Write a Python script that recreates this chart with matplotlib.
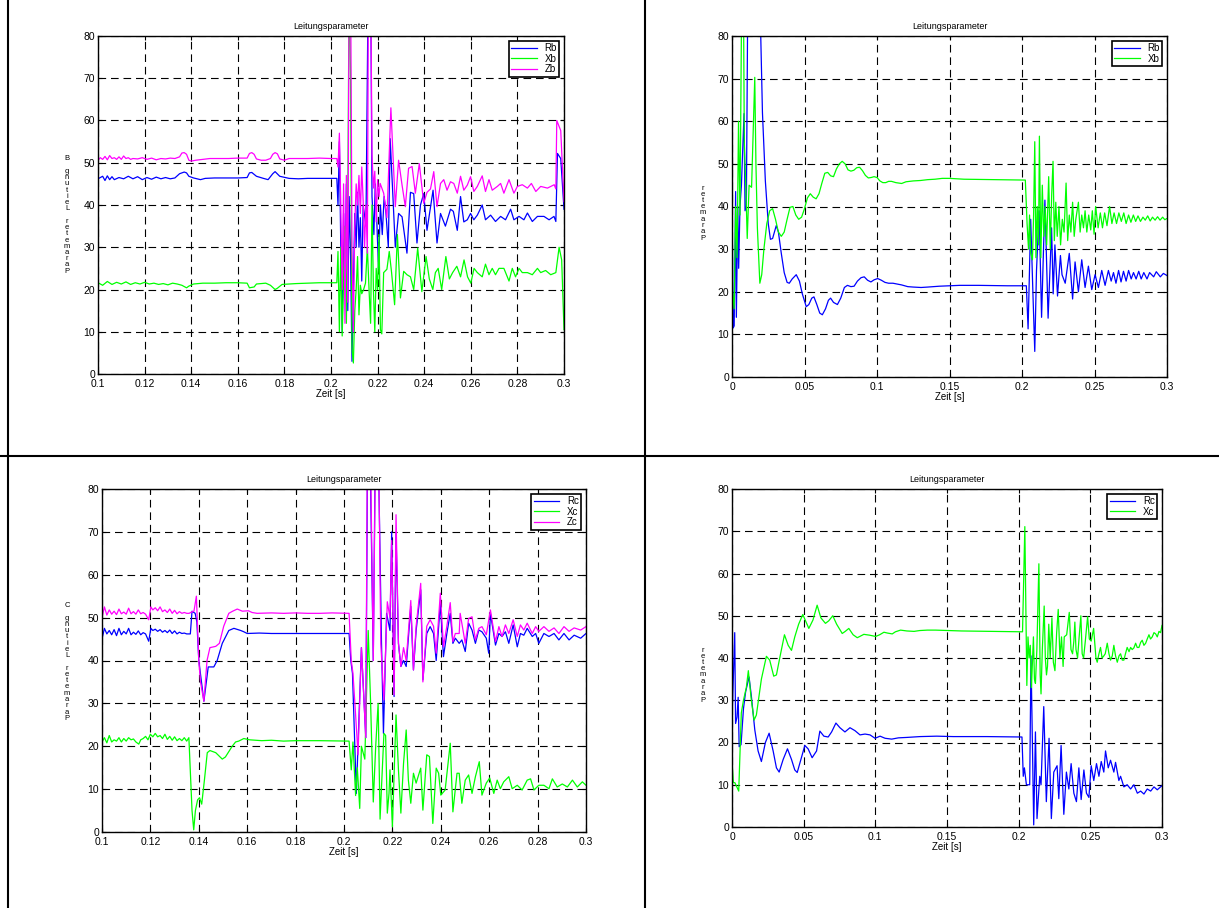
#recreate the four 'Leitungsparameter' panels (line b and line c)
import numpy as np
import matplotlib.pyplot as plt
from matplotlib.lines import Line2D

plt.rcParams['font.family'] = ['Liberation Sans', 'DejaVu Sans']
plt.rcParams['lines.scale_dashes'] = False

W, H = 1219, 908

#(time in ms, value) pairs
rb_left = [(100,46.2),(102,46.8),(103,45.8),(104,46.9),(105,46.0),(106,46.7),(107,46.0),(109,46.5),(111,46.2),(113,46.8),
           (115,46.2),(117,46.7),(119,46.0),(121,46.5),(123,46.1),(125,46.6),(127,46.2),(129,46.5),(131,46.2),(133,46.4),
           (135,47.4),(137,47.8),(138,47.6),(139,46.8),(141,46.4),(144,46.0),(146,46.3),(150,46.4),(155,46.4),(160,46.4),
           (164,46.5),(165,47.6),(166,47.7),(168,46.8),(171,46.3),(173,46.0),(175,47.4),(176,47.9),(178,46.8),(182,46.3),
           (186,46.2),(190,46.3),(195,46.3),(202.5,46.3),
           (203.0,40),(203.6,55),(204.2,30),(204.8,10),(205.4,38),(206.0,20),(206.6,45),(207.2,15),(207.8,42),(208.4,28),
           (209.0,3),(209.6,20),(210.2,38),(210.8,30),(211.4,43),(212.0,30),(212.6,37),(213.2,22),(213.8,40),(215.0,35),
           (216.0,95),(217.0,95),(217.6,42),(218.4,33),(219.0,45),(219.6,37),(220.4,25),(221.2,40),(222.0,33),(222.8,42),
           (223.6,38),(224.6,30),(225.4,55.7),(227.6,30),(229.0,38),(230.5,37.2),(232.6,28.6),(234.1,43),(235.5,42.7),(236.9,31),
           (238.4,40),(239.8,42.7),(241.2,34),(243.8,43.5),(245.5,31),(247.0,38),(249.1,35),(251.3,39),(252.5,38.5),(254.2,34),
           (255.6,42),(257.0,36),(258.5,36.5),(259.9,38),(261.3,36.5),(262.8,37.6),(264.9,40),(266.3,36.5),(268.5,37.6),(270.6,36.1),
           (272.8,37.3),(274.9,36.5),(277.1,39),(278.5,36.5),(280.7,37.3),(282.8,36.5),(284.3,38.1),(286.4,36.1),(288.6,37.3),(291.4,37.3),
           (293.6,36.5),(295.7,37.3),(296.5,36.1),(297.2,52.2),(298.6,51),(300,39)]
xb_left = [(100,21.6),(102,21.0),(104,21.9),(106,21.2),(108,21.7),(110,21.3),(112,21.8),(114,21.2),(116,21.6),(118,21.3),
           (120,21.7),(122,21.3),(124,21.5),(126,21.2),(128,21.4),(130,21.1),(132,21.5),(134,21.3),(136,21.0),(138,20.4),
           (139,20.8),(141,21.3),(145,21.5),(150,21.5),(155,21.6),(160,21.6),(164,21.5),(165,20.4),(167,20.6),(168,21.3),
           (172,21.5),(174,21.0),(176,20.0),(177,20.3),(179,21.2),(185,21.4),(190,21.5),(195,21.6),(202.5,21.6),
           (203.0,29),(203.6,10),(204.2,30),(204.8,9),(205.4,22),(206.0,35),(206.6,12),(207.2,40),(207.8,95),(208.4,70),
           (209.0,6),(209.6,2.6),(210.2,15),(210.8,20),(211.4,27.8),(212.0,14),(212.6,21),(213.2,19),(214.0,20),(214.8,21.5),
           (215.6,30),(216.4,19),(217.0,12),(217.6,40),(218.2,20),(218.8,10),(219.4,25),(220.0,20),(220.6,33),(221.2,10.5),
           (221.8,9.5),(222.6,24),(224.0,24.8),(225.0,29),(226.0,24),(227.3,16.4),(228.5,33),(229.8,18),(231.2,24.3),(232.6,23.5),
           (234.1,23),(235.5,20),(237.2,29.8),(239.0,19.5),(240.8,27.8),(242.2,22.5),(243.7,20),(244.8,24),(246.0,25),(247.5,20),
           (249.3,27.8),(250.8,22.5),(252.2,24),(254.0,25.5),(255.6,23),(257.1,27),(258.6,23),(260.0,21.5),(261.4,25),(262.8,24),
           (264.9,23),(266.3,26),(267.8,23.5),(269.2,25),(270.6,23.5),(272.1,25),(274.2,25),(276.4,22),(277.8,25),(279.2,23),
           (280.7,25),(282.1,24),(284.3,24),(286.4,23.5),(288.6,25),(290.0,24),(292.1,24.5),(294.3,23.5),(296.5,24),(297.9,30),
           (299.0,27),(300,10.5)]
zb_left = [(100,50.6),(101,51.2),(102,50.8),(103,51.5),(104,50.7),(105,51.7),(106,51.0),(107,51.2),(108,50.8),(109,51.4),
           (110,50.8),(111,51.6),(112,51.0),(113,51.2),(114,50.8),(115,51.0),(117,50.9),(119,51.2),(121,50.8),(123,51.1),
           (125,50.7),(127,51.0),(129,50.9),(131,51.1),(133,51.0),(135,51.4),(136,52.3),(137,52.4),(138,52.0),(139,50.6),
           (140,50.4),(142,50.6),(145,50.8),(148,51.0),(152,51.0),(156,51.0),(160,51.1),(164,51.1),(165,52.2),(166,52.4),
           (167,52.0),(168,50.9),(170,50.6),(172,50.6),(174,51.0),(175,52.0),(176,52.4),(177,52.1),(178,50.9),(180,50.6),
           (182,51.0),(186,51.0),(190,51.0),(195,51.1),(200,51.0),(202.5,51.0),
           (203.0,49),(203.6,57),(204.2,40),(204.8,20),(205.4,45),(206.0,12),(206.6,47),(207.2,17),(207.8,95),(208.4,95),
           (209.0,30),(209.6,10),(210.2,35),(210.8,45),(211.4,40),(212.0,47),(212.6,38),(213.2,49),(213.8,41),(214.4,30),
           (215.0,40),(215.6,28.6),(216.1,95),(217.0,95),(217.6,52),(218.2,44),(218.8,48),(219.4,36),(220.0,46),(220.6,42),
           (221.1,45.1),(222.6,42.8),(224.0,37),(225.7,63),(227.6,39.6),(229.0,50.6),(230.5,44.7),(231.9,39.6),(233.3,48.7),(234.8,49.1),
           (236.2,42.8),(237.9,49.8),(239.8,40.4),(241.2,43),(242.7,43.8),(244.1,47.9),(245.5,39.6),(247.0,45.1),(248.4,46),(249.8,43.5),
           (251.3,45.5),(252.7,45.1),(254.2,42.8),(255.6,46.8),(257.0,43.5),(258.5,44.7),(259.9,46.7),(261.3,43.2),(262.8,44.4),(264.9,46.9),
           (266.3,43.2),(267.8,46),(269.2,43.5),(271.4,44.4),(272.8,45.1),(274.2,42.8),(276.4,46),(278.5,42.8),(280.0,44.4),(282.1,44.8),
           (284.3,44),(286.0,45.1),(287.9,43.2),(290.0,44.4),(292.9,44),(295.8,44.8),(296.5,43.8),(296.9,60),(298.6,57.6),(300,40.8)]

rb_right = [(0,43),(0.8,11.5),(1.5,12),(2.5,43.5),(3.0,14),(4.0,40),(4.6,25.5),(5.5,40),(6.5,45),(8.3,61.8),
            (9.0,39),(9.9,40),(11.0,95),(18.5,95),(19.5,85),(21.0,62),(23.0,46),(25.0,36),(26.5,32.3),(28.0,32.5),
            (30.5,35.5),(32.0,34),(34.0,29),(36.0,24.5),(38.0,22.2),(39.5,22),(41.5,23),(44.3,24),(46.5,22.5),(48.5,19.5),
            (51.2,16.5),(53,17),(55,18.5),(56.5,18.8),(58.5,17),(60.5,15),(62.3,14.6),(64.5,16),(66.5,18),(68,18.5),
            (70,17.5),(72.7,17),(75,18.5),(77.5,21),(79.6,21.5),(82,21.2),(84.2,21.3),(86.5,22.5),(89,23.3),(91.2,23.5),
            (93.5,22.7),(95.8,22.3),(98,22.8),(100.5,23.1),(103,22.7),(105.5,22.2),(108,22),(111,22),(114,21.8),(117,21.6),
            (121.2,21.2),(125,21.1),(130.4,21),(135,21.1),(143,21.3),(150,21.4),(157,21.5),(170,21.5),(190,21.4),(203,21.4),
            (204.2,11.3),(206,37),(207.5,20),(208.8,6),(210,25),(211.8,39),(213.5,14),(215.8,41.5),(218,13.8),(220.4,35),
            (221.5,19.5),(222.7,31),(224.5,19),(226.5,28.5),(227.6,24),(229.8,22),(232.6,29),(234.9,18.3),(236.6,27),(238.9,20),
            (241.2,27.5),(243.5,21),(245.8,26),(248.1,20.5),(250.4,24),(252.7,21),(255,25),(257.3,21.5),(259.6,25),(261.5,22.5),
            (263.1,24.5),(264.8,22),(266.6,25),(268.3,22.3),(270,24.8),(271.8,22.5),(273.5,25),(275.3,23),(276.9,24.5),(278.7,23),
            (280.5,24.8),(282.2,23),(284,24.5),(286.2,23),(288,24.5),(290.8,23.5),(292.6,24.7),(295.4,23.5),(297.5,24.3),(300,23.8)]
xb_right = [(0,21),(1.5,16),(2.5,40),(3.5,28),(4.5,60),(5.5,38),(6.8,95),(7.8,95),(8.5,55),(9.5,45),
            (10.5,32.5),(11.8,45),(13.5,44.5),(15.7,70.3),(16.5,50),(17.5,35),(19.2,22),(20.5,24),(22,30),(24,36),
            (26,39),(28,39.5),(30,37),(32,34),(34,33),(36,34),(38,37),(40,39.8),(42,40),(44,38),
            (46,37),(48,37.5),(50,39.5),(52,42),(54,43),(56,42.2),(58,41.8),(60,43),(62,45.5),(64,47.8),
            (66,48),(68,47.2),(70,47),(72,48.8),(74,50),(76,50.6),(78,50),(80,48.6),(82,48.3),(84,48.5),
            (86,49.1),(88,49.2),(90,48.4),(92,47.3),(94,46.7),(96,46.8),(98,47),(100,46.8),(102,46),(104,45.6),
            (106,45.6),(108,45.9),(110,45.9),(113,45.6),(117,45.4),(120,45.8),(125,46),(130,46.1),(135,46.3),(140,46.4),
            (145,46.6),(150,46.6),(160,46.4),(180,46.3),(202.3,46.2),
            (203.5,36),(204.5,30),(205.2,38),(206.0,29),(207.2,27.5),(208.0,38),(208.8,55.2),(209.6,28),(210.5,40),(211.4,31),
            (212.0,56.5),(213.0,28),(214.0,45),(215.0,33),(216.0,40),(217.0,31),(218.4,47),(219.5,30),(220.5,43),(221.4,50.6),
            (222.3,32),(223.3,41),(224.3,33),(225.5,40),(226.6,31),(227.8,37),(229.0,34),(230.4,45.5),(231.5,32),(232.6,38),
            (233.7,34),(234.9,41),(236.0,33),(237.1,37),(238.9,41),(240.1,34),(241.2,38),(242.4,35),(243.5,39),(244.7,34),
            (246,38),(247.4,34.5),(248.5,39),(249.7,33.5),(250.8,40),(252.5,35),(254,38.5),(255.5,35),(257,38.5),(258.6,35.5),
            (260.4,40),(262,36),(263.5,38.5),(265.2,36),(266.8,38.5),(268.5,36.5),(270.2,38.5),(271.8,36),(273.5,38),(275.1,36.3),
            (276.8,38),(278.4,36.5),(280,37.8),(281.7,36.5),(283.4,37.5),(285,36.8),(286.7,37.8),(288.4,36.6),(290,37.5),(291.8,36.8),
            (293.5,37.6),(295.2,36.8),(297,37.5),(298.5,36.9),(300,37.2)]

rc_left = [(100,45),(101,47.5),(102,46.2),(103,47),(104,46),(105,47.2),(106,45.8),(107,47.5),(108,46),(109,46.8),
           (110,46.2),(111,47.5),(112,46),(113,46.6),(114,46.1),(115,46.9),(116,46),(117,46.5),(118,46.2),(119.3,44.5),
           (120.2,47.5),(121,47),(122,47.3),(123,46.8),(124,47.2),(125,46.6),(126,47),(127,46.5),(128,47.1),(129,46.3),
           (130,46.9),(131,46.2),(132,46.6),(133,46.3),(134,46.4),(135,46.2),(136.5,46.2),(137.2,51.5),(138.5,51),(139.2,49),
           (140,40),(142.1,30.5),(143.9,38.5),(146.2,38.5),(147.6,40),(149.7,44),(152.4,47),(154.5,47.5),(157.3,47),(158.6,46.7),
           (160,46.3),(165,46.4),(170,46.3),(180,46.3),(190,46.3),(202.1,46.3),
           (202.8,40),(203.5,37),(205.1,9),(207.2,43),(209,22),(209.8,95),(210.6,95),(212.1,40),(213,95),(214,95),
           (215.5,44),(216.3,23),(217.6,51),(219,47),(219.7,70),(220.7,31.6),(221.5,69.7),(222.5,44),(223.5,38.6),(224.6,40),
           (225.7,38.6),(227.6,52.6),(228.7,37.8),(229.8,47),(231.7,56.5),(232.6,35.5),(234.2,46.3),(235.6,47.9),(237,46.3),(238.1,40),
           (239.8,53.3),(241.1,40.9),(242.5,46.3),(243.9,51),(245,44),(246,45.2),(247.6,44),(248.7,44.8),(250.1,42.1),(251.5,48.7),
           (252.9,47.1),(254.3,44),(255.7,47.1),(257,46.7),(258.8,45.2),(259.8,41.7),(260.5,51),(262.6,43.6),(264,46.3),(265.3,45.6),
           (266.7,46.7),(268.1,44),(269.9,48.3),(271.6,43.2),(272.9,46.3),(274.3,45.9),(275.7,47.5),(277.8,45.6),(279.2,46.3),(280.5,44),
           (282.6,46.3),(284.7,45.6),(286.8,46.3),(288.8,44.8),(290.9,46.3),(293,44.8),(295.1,45.9),(297.8,45.2),(300,46.3)]
xc_left = [(100,21),(101,22),(102,20.8),(103,22.5),(104,21),(105,21.5),(106,21.2),(107,22),(108,21),(109,21.8),
           (110,21.2),(111,22),(112,21.5),(113,21.7),(114,21),(115.2,20.5),(116,21.5),(117,21.8),(118,22.3),(119,21.5),
           (120,22.8),(121,22.2),(122,23),(123,22.2),(124,22.5),(125,21.8),(126,22.8),(127,21.6),(128,22.3),(129,21.4),
           (130,22.2),(131,21.3),(132,21.8),(133,21.3),(134,22),(135,21.2),(135.9,22),(136.5,14),(137.2,5),(137.9,0.5),
           (138.6,5),(139.5,7.5),(140.3,8),(141.2,6.5),(142.3,12),(143.5,18.5),(144.6,19),(147,18.5),(149.7,17),(151,17.5),
           (153.8,20),(155.2,21),(156.5,21.2),(158.6,21.8),(161,21.5),(166,21.3),(170,21.4),(175,21.2),(180,21.3),(190,21.3),
           (202.1,21.2),
           (203,14.5),(203.7,21),(204.8,8.5),(205.5,15),(206.5,5.5),(207.2,20),(208.6,17),(210,47),(211,30),(212.1,7),
           (213.1,20),(214.1,30),(214.9,3),(216.5,23),(217.2,22.5),(217.9,4.4),(218.6,9),(219,14.5),(220,1.2),(221.5,27.3),
           (222.5,14.5),(223.5,4.4),(224.6,16),(225.7,23.8),(226.6,12.1),(227.6,6.7),(228.7,13.7),(229.8,11.4),(231.7,14.9),(232.6,5.1),
           (234.2,18),(235.3,17.6),(236.7,2),(238.1,14.9),(239.1,13.7),(240,8.6),(241.8,9.8),(243.9,20.7),(245,4.7),(246.7,13.7),
           (247.6,13.7),(248.7,6.7),(250.1,12.1),(251.5,13.3),(252.9,9),(254.3,12.9),(255.9,16.4),(257,8.6),(258.8,11.4),(260.2,12.6),
           (261.9,9),(263.3,12.1),(264.6,10.1),(266,11.7),(268.1,12.9),(269.5,10.1),(271.6,10.9),(273.6,9.8),(275.7,12.1),(277.1,12.4),
           (278.5,9.8),(280.5,10.9),(282.6,10.9),(284.7,10.1),(286.1,12.4),(288.1,10.5),(290.2,11.2),(292.3,10.5),(294.4,12.1),(296.4,10.5),
           (298.5,11.7),(300,10.9)]
zc_left = [(100,50),(101,52.5),(102,50.6),(103,51.8),(104,50.8),(105,51.5),(106,50.7),(107,52),(108,50.9),(109,51.3),
           (110,50.8),(111,52.2),(112,50.9),(113,51.4),(114,50.8),(115,51.8),(116,50.9),(117,51.2),(118,50.8),(119.3,49.5),
           (120.2,52.5),(121,51.8),(122,52.3),(123,51.6),(124,52.5),(125,51.4),(126,51.8),(127,51.2),(128,52),(129,51),
           (130,51.7),(131,50.9),(132,51.4),(133,51),(134,51.2),(135,51),(136,51),(137,51.3),(138,51.5),(139,55),
           (140,40),(140.7,35),(142.1,30.5),(143.4,40),(144.6,43),(147,43.3),(148.5,44),(150.3,48),(152.4,51),(154,51.5),
           (155.9,52),(158,51.5),(160.5,51.6),(162,51.2),(164.1,51),(170,51.1),(175,51),(180,51.1),(185,51),(190,51),
           (195,51.1),(202.1,51),
           (203,40),(203.7,37),(204.5,30),(205.8,18),(207.2,43),(209,22),(209.7,95),(210.8,95),(212.1,40),(213.1,95),
           (214.2,95),(215.2,44),(216.5,30.8),(217.9,53.7),(219,50),(219.7,68),(220.7,32),(221.5,74),(222.5,44),(223.5,38.6),
           (224.6,43),(225.7,40),(227.6,54),(228.7,37.8),(229.8,48),(231.7,58),(232.6,35),(234.2,48),(235.6,49.5),(237,48),
           (238.1,41.7),(239.8,55.7),(241.1,43.2),(242.5,48),(243.9,53.5),(245,44.4),(246,46.3),(247.6,46.3),(248,51),(250.1,44),
           (251.5,49.8),(252.9,50.2),(254.3,44.8),(255.7,47.5),(257,47.9),(258.8,46),(260.5,51.8),(262.6,44.4),(264,47.9),(265.3,45.6),
           (266.7,48.3),(268.1,46.3),(269.9,49.5),(271.6,45.6),(272.9,48.3),(274.3,47.1),(275.7,48.7),(277.8,46.3),(279.2,47.9),(280.5,46.8),
           (282.6,47.9),(284.7,46.8),(286.8,47.6),(288.8,46.3),(290.9,47.9),(293,46.8),(295.1,47.6),(297.8,47.1),(300,47.9)]

rc_right = [(0,25),(1.9,46),(2.5,24.5),(3.5,26),(4.3,30.7),(5.0,19),(6.3,19.5),(8,28),(9.5,32),(11.9,35.5),
            (13.5,31),(15.9,23),(18.2,18),(20.5,15.5),(23.3,20),(25.9,22.2),(28.7,18),(31,14),(32.9,13),(35.7,16),
            (38.7,18.5),(41.5,16),(43.8,13.5),(45.5,12.9),(48.5,16.5),(50.8,19.3),(53.1,18.5),(55.9,16.4),(59,18),(61.3,22.7),
            (64.1,21.5),(67.1,21.3),(69.5,22.5),(72.5,24.6),(75.3,23.5),(78.8,22.5),(82.3,23.5),(85.8,22.8),(89.3,21.8),(92.8,22),
            (96.3,21.8),(99.8,21),(103.3,21.5),(106.8,21),(111.4,20.8),(116.1,21.1),(121.9,21.2),(131.2,21.4),(142.9,21.5),(154.5,21.4),
            (177.9,21.4),(202.3,21.3),
            (203.2,12),(204,14),(205.4,10),(206.3,10),(207.7,10),(208.6,40.5),(210.5,0.5),(211.7,22.5),(212.8,2),(214.7,12),
            (215.6,10),(217.5,28.5),(219.3,6),(221.2,21),(222.8,2),(224.5,13),(226.8,14.5),(228,6.7),(229.6,19.3),(231.5,3),
            (233.3,13),(235,9),(236.6,15),(238.5,8),(240.3,6),(242,14),(243.6,6.5),(245.5,13.5),(247.3,8),(249,7),
            (250.6,14.5),(252.4,11),(254.3,15),(256,12),(257.6,15.5),(259.4,13),(260.6,18),(262.5,14),(264.1,15.8),(266.4,13),
            (267.6,15.3),(269.9,11),(271.1,12),(273.4,9.5),(275.7,10),(278.1,9),(280.4,10),(282.8,8),(285.1,8.5),(287.4,7.8),
            (289.7,9),(292.1,8.5),(294.4,9.5),(296.7,8.8),(300,9.8)]
xc_right = [(0,15.5),(1,10.5),(2,10.5),(4.7,8.5),(6.5,27),(8,30),(10,33),(11.4,37),(13.5,30),(15.4,25.3),
            (17,26.5),(20.5,35),(24,40.4),(26.3,39.5),(29.1,35.7),(31,36),(33.3,40),(36.6,45.5),(39.2,43),(41.5,41.8),
            (43.8,45),(46.5,48),(49.4,50.3),(53.6,47),(56.5,49),(59.4,52.5),(62,49.5),(65.2,48.2),(67.5,48.8),(70.3,50),
            (73,48),(76.9,45.8),(79,46.3),(81.5,47),(84.5,45.5),(87.4,44.8),(92,45.6),(96,45.4),(100.2,45.1),(103,45.5),
            (106,46.1),(108.5,45.9),(111.8,45.7),(114,46.2),(117.6,46.6),(122,46.4),(127,46.3),(131,46.5),(136.3,46.6),(142,46.6),
            (150.2,46.5),(160,46.4),(180,46.3),(202.7,46.2),
            (204.3,71.1),(205.7,33.5),(206.5,45),(207.3,40),(208.1,43),(208.9,33),(210.3,45),(211,35),(211.7,34),(212.7,42),
            (214.1,62.3),(215,36),(215.6,31.5),(216.5,42),(217.8,52.3),(218.6,40),(219.4,36),(220.1,38),(221,48),(222,40),
            (223.2,49.5),(224.2,39),(225.3,37),(226.5,46),(227.6,51.5),(228.8,40),(229.9,45),(231,38),(231.8,45),(233.5,45.5),
            (235.3,50.8),(236.5,42),(237.6,41),(238.5,44),(239.2,48.5),(240,42),(241.1,40),(242.2,45),(243.4,50),(244.3,41),
            (245.3,40),(246.5,44),(248.1,49.8),(249.3,44.5),(250.6,44),(252.3,47),(253.9,40),(254.8,39),(256,41),(257.1,42.5),
            (258.2,40),(259.4,40.5),(260.4,41),(261.8,43.5),(263,41),(264.1,39.5),(265.3,40.5),(266.4,43),(267.6,40.5),(268.8,39),
            (270,40.5),(271.1,41),(272.3,39.5),(273.4,39.5),(274.5,41),(275.7,42.5),(277,41.5),(278.1,42.5),(279.2,42),(280.4,42.4),
            (281.6,43.5),(282.7,42.5),(283.9,42.5),(285.1,43.7),(286.2,44.2),(287.4,43),(288.6,43.5),(289.7,44.5),(290.9,45.5),(292,44.5),
            (293.2,45),(294.4,46),(295.6,45.7),(296.7,45),(297.9,46.3),(299,46),(300,47.7)]

xticks_left = [0.1, 0.12, 0.14, 0.16, 0.18, 0.2, 0.22, 0.24, 0.26, 0.28, 0.3]
xticks_right = [0, 0.05, 0.1, 0.15, 0.2, 0.25, 0.3]
yticks = [0, 10, 20, 30, 40, 50, 60, 70, 80]

BLUE, GREEN, MAGENTA = '#0000ff', '#00ff00', '#ff00ff'


def add_panel(fig, box, series, xticks, ylabel, ylabel_xy):
    #box is (left, top, right, bottom) in pixels
    l, t, r, b = box
    ax = fig.add_axes([l / W, 1 - b / H, (r - l) / W, (b - t) / H])
    for name, pts, col in series:
        arr = np.array(pts)
        ax.plot(arr[:, 0] / 1000, arr[:, 1], color=col, lw=0.9, label=name)
    ax.set_xlim(xticks[0], xticks[-1])
    ax.set_ylim(0, 80)
    ax.set_xticks(xticks)
    ax.set_xticklabels([f'{v:g}' for v in xticks])
    ax.set_yticks(yticks)
    ax.set_axisbelow(True)
    ax.grid(True, color='black', linestyle=(0, (5.5, 3.5)), linewidth=0.8)
    ax.tick_params(direction='in', top=True, right=True, labelsize=7.5, length=3, width=0.8, pad=2)
    ax.tick_params(axis='x', pad=3.5)
    for s in ax.spines.values():
        s.set_linewidth(1.0)
    ax.set_title('Leitungsparameter', fontsize=6.5, pad=5)
    ax.set_xlabel('Zeit [s]', fontsize=7, labelpad=0)
    leg = ax.legend(loc='upper right', fontsize=7, fancybox=False, edgecolor='black', framealpha=1,
                    handlelength=2.6, borderpad=0.25, labelspacing=0.05, borderaxespad=0.5)
    leg.get_frame().set_linewidth(1.2)
    #the y label came out as stacked glyphs in the original
    fig.text(ylabel_xy[0] / W, 1 - ylabel_xy[1] / H, '\n'.join(reversed(ylabel)),
             fontsize=5.5, ha='center', va='center', linespacing=0.85)
    return ax


fig = plt.figure(figsize=(W / 100, H / 100), dpi=100)

add_panel(fig, (98, 36, 564, 374), [('Rb', rb_left, BLUE), ('Xb', xb_left, GREEN), ('Zb', zb_left, MAGENTA)],
          xticks_left, 'Parameter Leitung B', (67, 215))
add_panel(fig, (732, 36, 1167, 377), [('Rb', rb_right, BLUE), ('Xb', xb_right, GREEN)],
          xticks_right, 'Parameter', (703, 213))
add_panel(fig, (102, 489, 586, 832), [('Rc', rc_left, BLUE), ('Xc', xc_left, GREEN), ('Zc', zc_left, MAGENTA)],
          xticks_left, 'Parameter Leitung C', (67, 662))
add_panel(fig, (732, 489, 1162, 827), [('Rc', rc_right, BLUE), ('Xc', xc_right, GREEN)],
          xticks_right, 'Parameter', (703, 675))

#table frame around the four pictures
for (x0, y0, x1, y1) in [(8, 0, 8, H), (645, 0, 645, H), (0, 456, W, 456)]:
    fig.add_artist(Line2D([x0 / W, x1 / W], [1 - y0 / H, 1 - y1 / H], color='black', lw=1.5))

fig.savefig('out.png', dpi=100)
